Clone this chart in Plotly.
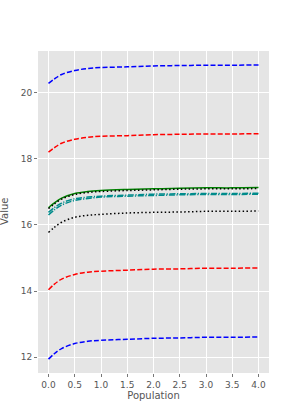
import plotly.graph_objects as go

population = [0, 0.1, 0.25, 0.5, 0.75, 1.0, 1.5, 2.0, 2.5, 3.0, 3.5, 4.0]

blue_top = [20.28, 20.40, 20.55, 20.67, 20.73, 20.76, 20.78, 20.81, 20.82, 20.83, 20.83, 20.84]
red_top = [18.20, 18.32, 18.47, 18.59, 18.65, 18.68, 18.70, 18.73, 18.74, 18.75, 18.75, 18.76]
green_mid = [16.52, 16.65, 16.81, 16.95, 17.01, 17.04, 17.07, 17.09, 17.11, 17.12, 17.12, 17.13]
black_top = [16.49, 16.62, 16.78, 16.92, 16.98, 17.01, 17.04, 17.06, 17.08, 17.09, 17.09, 17.10]
teal_a = [16.38, 16.51, 16.66, 16.79, 16.84, 16.87, 16.90, 16.93, 16.94, 16.95, 16.95, 16.96]
teal_b = [16.30, 16.44, 16.60, 16.74, 16.80, 16.84, 16.87, 16.89, 16.91, 16.92, 16.92, 16.93]
black_low = [15.77, 15.91, 16.08, 16.23, 16.29, 16.32, 16.36, 16.38, 16.39, 16.41, 16.41, 16.42]
red_low = [14.04, 14.19, 14.36, 14.50, 14.57, 14.60, 14.63, 14.66, 14.67, 14.69, 14.69, 14.70]
blue_low = [11.94, 12.09, 12.26, 12.41, 12.48, 12.51, 12.54, 12.57, 12.58, 12.60, 12.60, 12.61]

x_ticks = [0.0, 0.5, 1.0, 1.5, 2.0, 2.5, 3.0, 3.5, 4.0]
x_tick_labels = ["0.0", "0.5", "1.0", "1.5", "2.0", "2.5", "3.0", "3.5", "4.0"]
y_ticks = [12, 14, 16, 18, 20]
y_tick_labels = ["12", "14", "16", "18", "20"]

DASH = "5px,2.2px"
DOT = "1.5px,2.4px"
DASHDOT = "6px,1.6px,1.2px,1.6px"

series = [
    (blue_top, "blue", DASH),
    (red_top, "red", DASH),
    (blue_low, "blue", DASH),
    (red_low, "red", DASH),
    (green_mid, "#008000", "solid"),
    (teal_a, "#008B8B", DASHDOT),
    (teal_b, "#008B8B", DASHDOT),
    (black_top, "black", DOT),
    (black_low, "black", DOT),
]

fig = go.Figure()
for ys, color, dash in series:
    fig.add_trace(go.Scatter(
        x=population, y=ys, mode="lines",
        line=dict(color=color, dash=dash, width=1.5, shape="spline", smoothing=1.0),
        showlegend=False, hoverinfo="skip",
    ))

axis_common = dict(
    showgrid=True, gridcolor="white", gridwidth=1.2,
    zeroline=False, showline=False, automargin=False,
    ticks="outside", ticklen=3, tickwidth=1, tickcolor="#777777",
    tickfont=dict(family="DejaVu Sans", size=9, color="#555555"),
)

fig.update_layout(
    width=300, height=420,
    paper_bgcolor="white", plot_bgcolor="#E5E5E5",
    margin=dict(l=38, r=31, t=51, b=47),
    font=dict(family="DejaVu Sans"),
    xaxis=dict(range=[-0.2, 4.2], tickvals=x_ticks, ticktext=x_tick_labels,
               title=dict(text="Population", font=dict(size=10, color="#555555"), standoff=3),
               **axis_common),
    yaxis=dict(range=[11.52, 21.26], tickvals=y_ticks, ticktext=y_tick_labels,
               **axis_common),
    annotations=[dict(text="Value", xref="paper", yref="paper", x=-0.147, y=0.5,
                      xanchor="center", yanchor="middle", textangle=-90, showarrow=False,
                      font=dict(family="DejaVu Sans", size=10, color="#555555"))],
)

fig.write_html("out.html", config={"displayModeBar": False},
               post_script="document.body.style.margin='0';document.body.style.padding='0';")
